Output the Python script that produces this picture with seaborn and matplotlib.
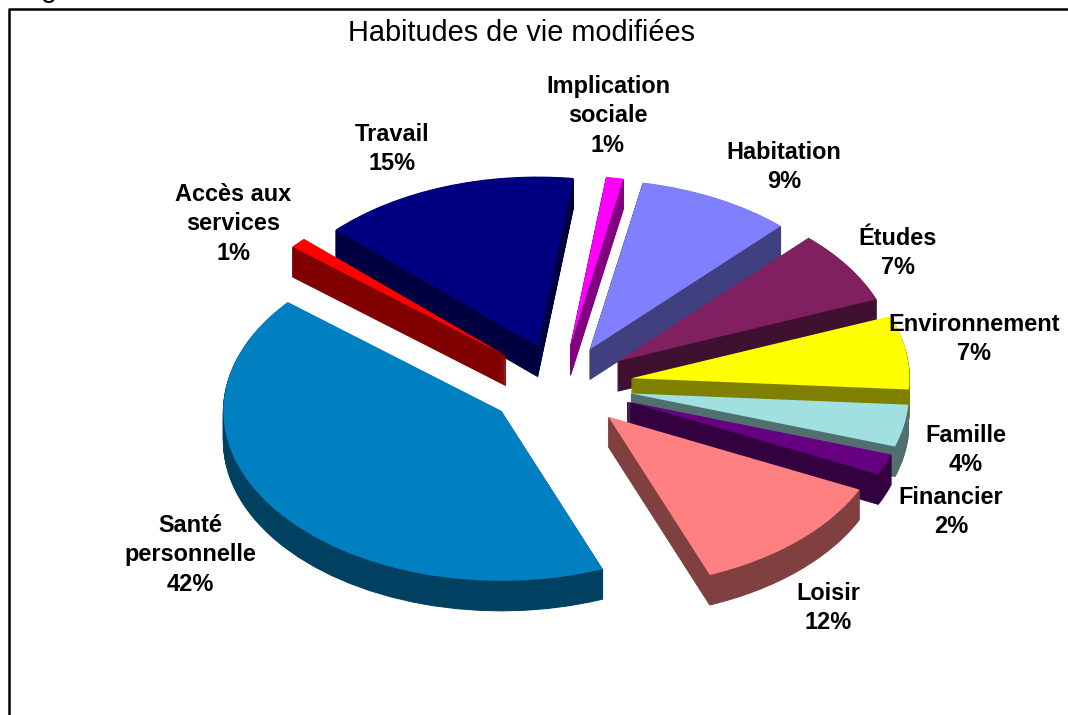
import numpy as np
import matplotlib
matplotlib.use('Agg')
import matplotlib.pyplot as plt
from matplotlib.colors import to_rgb
import seaborn as sns

names = ['Santé\npersonnelle', 'Loisir', 'Financier', 'Famille', 'Environnement',
         'Études', 'Habitation', 'Implication\nsociale', 'Travail', 'Accès aux\nservices']
values = [42, 12, 2, 4, 7, 7, 9, 1, 15, 1]
colors = ['#0080C0', '#FF8080', '#660080', '#A0E0E0', '#FFFF00',
          '#802060', '#8080FF', '#FF00FF', '#000080', '#FF0000']

# pixel centres of the labels
label_pos = [(190, 555), (828, 608), (951, 512), (966, 450), (974, 339),
             (898, 253), (784, 167), (608, 116), (392, 149), (233, 224)]

sns.set_theme(style='white')
plt.rcParams['font.family'] = ['Liberation Sans', 'DejaVu Sans']

W, H = 1068, 715
cx, cy = 560, 385
rx, ry = 278, 170
depth = 30

fig = plt.figure(figsize=(W / 100, H / 100), dpi=100)
ax = fig.add_axes([0, 0, 1, 1])

explode = [0.26, 0.255, 0.26, 0.26, 0.26, 0.25, 0.235, 0.235, 0.24, 0.26]
wall_colors = [tuple(c * 0.5 for c in to_rgb(col)) for col in colors]
start = 140.2

# side walls, stacked pie layers from bottom to top
for d in range(depth, 0, -1):
    wedges, _ = ax.pie(values, explode=explode, colors=wall_colors, startangle=start,
                       center=(0, -d / ry), radius=1)
    for w in wedges:
        w.set_edgecolor(w.get_facecolor())
        w.set_linewidth(0.7)
ax.pie(values, explode=explode, colors=colors, startangle=start,
       radius=1, wedgeprops={'linewidth': 0})

ax.set_aspect('auto')
ax.set_xlim(-cx / rx, (W - cx) / rx)
ax.set_ylim((cy - H) / ry, cy / ry)
ax.axis('off')

# chart frame
fig.add_artist(plt.Line2D([8.5 / W, 8.5 / W, 1], [0, 1 - 8.5 / H, 1 - 8.5 / H],
                          color='black', lw=1.8))

def to_fig(px, py):
    return px / W, 1 - py / H

fig.text(*to_fig(521, 33), 'Habitudes de vie modifiées', ha='center', va='center',
         fontsize=20.8, color='black')
fig.text(*to_fig(49, -11), 'g', ha='center', va='center', fontsize=20.8, color='black')

for name, val, pos in zip(names, values, label_pos):
    fig.text(*to_fig(*pos), f'{name}\n{val}%', ha='center', va='center',
             fontsize=16.9, fontweight='bold', color='black', linespacing=1.37)

fig.savefig('out.png', dpi=100)
